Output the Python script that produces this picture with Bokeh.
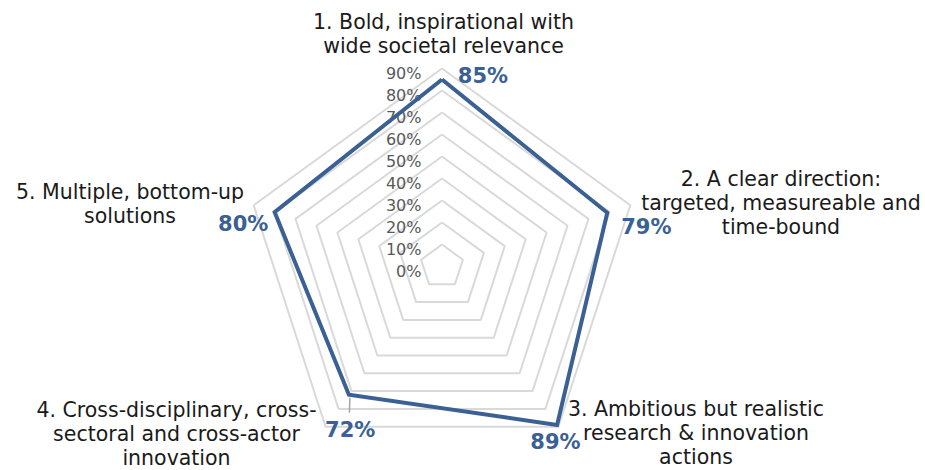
import math
from bokeh.plotting import figure
from bokeh.models import Range1d, ColumnDataSource
from bokeh.core.properties import value
from bokeh.embed import file_html
from bokeh.resources import INLINE

# ---- data ----
categories = [
    "1. Bold, inspirational with\nwide societal relevance",
    "2. A clear direction:\ntargeted, measureable and\ntime-bound",
    "3. Ambitious but realistic\nresearch & innovation\nactions",
    "4. Cross-disciplinary, cross-\nsectoral and cross-actor\ninnovation",
    "5. Multiple, bottom-up\nsolutions",
]
values = [0.85, 0.79, 0.89, 0.72, 0.80]
value_labels = ["85%", "79%", "89%", "72%", "80%"]
ticks = [0.0, 0.1, 0.2, 0.3, 0.4, 0.5, 0.6, 0.7, 0.8, 0.9]
tick_labels = ["0%", "10%", "20%", "30%", "40%", "50%", "60%", "70%", "80%", "90%"]

# ---- layout (reference pixel frame, y measured from top) ----
W, H = 925, 470
CX, CY = 441.5, 266.0        # centre of radar (screen px)
SCALE = 220.0                # px per 100 %
BLUE = "#3B6094"
GRID = "#D9D9D9"
FONT = "DejaVu Sans"

def to_xy(r, i):
    a = math.radians(90 - 72 * i)
    return CX + SCALE * r * math.cos(a), (H - CY) + SCALE * r * math.sin(a)

p = figure(width=W, height=H, output_backend="svg", toolbar_location=None,
           x_range=Range1d(0, W), y_range=Range1d(0, H), min_border=0)
p.axis.visible = False
p.grid.visible = False
p.outline_line_color = None
p.background_fill_color = "white"
p.border_fill_color = "white"

# grid rings (skip centre 0)
for t in ticks[1:]:
    pts = [to_xy(t, i) for i in range(5)] + [to_xy(t, 0)]
    p.line([q[0] for q in pts], [q[1] for q in pts], line_color=GRID, line_width=2)

# tick labels
tx = [CX - 20.5] * len(ticks)
ty = [(H - CY) + SCALE * t - 4.5 for t in ticks]
p.text(tx, ty, text=tick_labels, text_font=value(FONT), text_font_size="16px",
       text_color="#595959", text_align="right", text_baseline="alphabetic")

# data series
pts = [to_xy(v, i) for i, v in enumerate(values)]
xs = [q[0] for q in pts] + [pts[0][0]]
ys = [q[1] for q in pts] + [pts[0][1]]
p.line(xs, ys, line_color=BLUE, line_width=4, line_join="miter")

# leader line for 72 %
x4, y4 = pts[3]
p.line([x4 + 1, x4 + 0.5], [y4 - 3, y4 - 18], line_color="#A6A6A6", line_width=1.5)

# value labels
lab_off = [(41, -4), (39, 14.5), (-1.6, 17), (1.3, 35), (-31.4, 12)]
src = ColumnDataSource(dict(
    x=[q[0] for q in pts], y=[q[1] for q in pts], t=value_labels,
    xo=[o[0] for o in lab_off], yo=[o[1] for o in lab_off]))
p.text(x="x", y="y", text="t", x_offset="xo", y_offset="yo", source=src,
       text_font=value(FONT), text_font_size="21px", text_font_style="bold",
       text_color=BLUE, text_align="center", text_baseline="alphabetic")

# category labels (centre x, first baseline y in screen px)
cat_anchor = [(443, 21.3), (780.5, 178), (695.5, 408), (176, 409), (129.5, 191.3)]
LINE = 24.0
lx, ly, lt = [], [], []
for (ax, ay), c in zip(cat_anchor, categories):
    for k, line in enumerate(c.split("\n")):
        lx.append(ax)
        ly.append(H - (ay + k * LINE))
        lt.append(line)
p.text(lx, ly, text=lt, text_font=value(FONT), text_font_size="20.5px",
       text_color="#1A1A1A", text_align="center", text_baseline="alphabetic")

open("out.html", "w").write(file_html(p, INLINE))
